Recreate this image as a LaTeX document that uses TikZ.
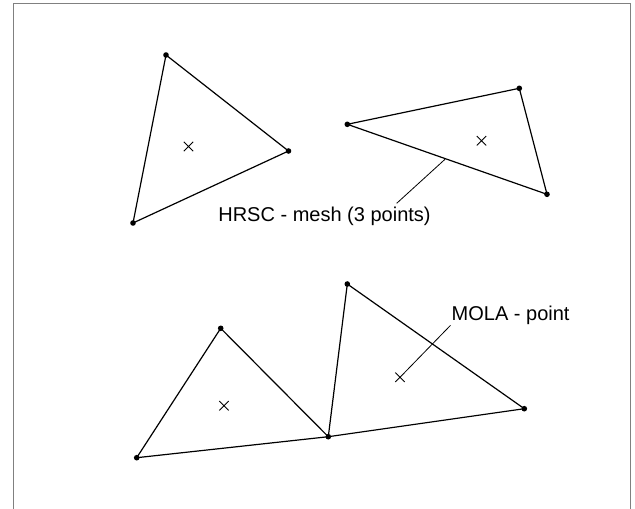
\documentclass[tikz,border=0pt]{standalone}
\usepackage{fontspec}
\setmainfont{Liberation Sans}
\usetikzlibrary{shapes.misc}

\tikzset{
  dot/.style={fill=black},
  xmark/.style={cross out,draw,line width=0.9pt,minimum size=8.5pt,inner sep=0pt},
  edge/.style={line width=1.2pt,line join=round},
  lead/.style={line width=0.8pt},
  label/.style={font=\fontsize{20}{23}\selectfont,inner sep=1pt}
}

\begin{document}
\begin{tikzpicture}[x=1pt,y=-1pt]

\useasboundingbox
(0,0)
rectangle
(635,509);

% Cadre
\draw[gray,line width=1pt]
(13.4,509)
--
(13.4,3.7)
--
(630.8,3.7)
--
(630.8,509);

% Sommets
\coordinate (a1) at (166,55);
\coordinate (a2) at (288.5,151);
\coordinate (a3) at (133,223);

\coordinate (b1) at (347.3,124.3);
\coordinate (b2) at (519.3,88.3);
\coordinate (b3) at (547,194.3);

\coordinate (c1) at (136.7,457.7);
\coordinate (c2) at (220.7,328.3);
\coordinate (c3) at (328.3,436.7);
\coordinate (c4) at (347.3,284);
\coordinate (c5) at (524.3,408.7);

% Mailles HRSC
\draw[edge]
(a1) -- (a2) -- (a3) -- cycle;

\draw[edge]
(b1) -- (b2) -- (b3) -- cycle;

\draw[edge]
(c1) -- (c2) -- (c3) -- cycle;

\draw[edge]
(c3) -- (c4) -- (c5) -- cycle;

\foreach \p in {a1,a2,a3,b1,b2,b3,c1,c2,c3,c4,c5}
  \fill[dot] (\p) circle (2.8);

% Points MOLA
\node[xmark] (x1) at (188.5,146.5) {};
\node[xmark] (x2) at (481.5,140.7) {};
\node[xmark] (x3) at (224,405.7) {};
\node[xmark] (x4) at (400,377.3) {};

% Legendes
\node[label]
(hrsc) at (324.5,216.5)
{HRSC - mesh (3 points)};

\coordinate (hfoot) at (396.7,203.3);
\coordinate (hedge) at (445,159.3);

\draw[lead]
(hfoot)
--
(hedge);

\node[label,anchor=base west]
(mola) at (450.5,320)
{MOLA - point};

\draw[lead]
(mola.south west)
--
(x4);

\end{tikzpicture}
\end{document}
